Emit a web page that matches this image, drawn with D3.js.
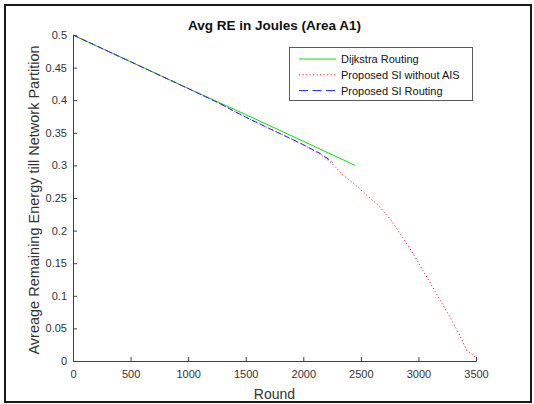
<!DOCTYPE html>
<html>
<head>
<meta charset="utf-8">
<script src="https://cdn.jsdelivr.net/npm/d3@7"></script>
<style>
  html, body { margin: 0; padding: 0; background: #fff; }
  svg { display: block; font-family: "Liberation Sans", Arial, Helvetica, sans-serif; }
</style>
</head>
<body>
<svg id="chart" width="534" height="404"></svg>
<script>
// Average remaining energy per round for the three routing schemes
const dijkstraRounds = [0, 500, 1000, 1500, 2000, 2450];
const dijkstraEnergy = [0.5, 0.459, 0.418, 0.378, 0.337, 0.300];

const siRounds = [0, 500, 1000, 1250, 1500, 1700, 1975, 2150, 2255];
const siEnergy = [0.5, 0.459, 0.418, 0.397, 0.374, 0.357, 0.334, 0.318, 0.305];

const noAisRounds = [0, 500, 1000, 1250, 1500, 1700, 1975, 2150, 2250, 2340, 2440, 2535,
                     2650, 2762, 2862, 2935, 3005, 3105, 3190, 3275, 3360, 3420, 3480, 3500];
const noAisEnergy = [0.5, 0.459, 0.418, 0.397, 0.374, 0.357, 0.334, 0.317, 0.303, 0.286, 0.272, 0.257,
                     0.239, 0.216, 0.190, 0.170, 0.149, 0.119, 0.093, 0.067, 0.039, 0.016, 0.009, 0.004];

const xTicks = [0, 500, 1000, 1500, 2000, 2500, 3000, 3500];
const yTicks = [0, 0.05, 0.1, 0.15, 0.2, 0.25, 0.3, 0.35, 0.4, 0.45, 0.5];
const yTickLabels = ["0", "0.05", "0.1", "0.15", "0.2", "0.25", "0.3", "0.35", "0.4", "0.45", "0.5"];

const seriesNames = ["Dijkstra Routing", "Proposed SI without AIS", "Proposed SI Routing"];

const svg = d3.select("#chart");
const plot = { left: 73, right: 476, top: 35, bottom: 361 };
const axisColor = "#404040";
const textColor = "#333333";

// figure frame
svg.append("rect")
  .attr("x", 5).attr("y", 5)
  .attr("width", 526).attr("height", 397)
  .attr("fill", "#fff")
  .attr("stroke", "#1a1a1a").attr("stroke-width", 2);

const x = d3.scaleLinear().domain([0, 3500]).range([plot.left, plot.right]);
const y = d3.scaleLinear().domain([0, 0.5]).range([plot.bottom, plot.top]);

// axes with inward ticks
const xAxis = d3.axisBottom(x).tickValues(xTicks).tickSize(-4).tickPadding(9.5).tickFormat(d3.format("d"));
const yAxis = d3.axisLeft(y).tickValues(yTicks).tickSize(-4).tickPadding(6)
  .tickFormat((d, i) => yTickLabels[i]);

const gx = svg.append("g").attr("transform", `translate(0,${plot.bottom})`).call(xAxis);
const gy = svg.append("g").attr("transform", `translate(${plot.left},0)`).call(yAxis);

[gx, gy].forEach(g => {
  g.select(".domain").attr("stroke", axisColor).attr("stroke-width", 1);
  g.selectAll(".tick line").attr("stroke", axisColor).attr("stroke-width", 1);
  g.selectAll(".tick text")
    .attr("fill", textColor)
    .style("font-size", "11px")
    .style("font-family", "'Liberation Sans', Arial, sans-serif");
});

// series lines
const line = d3.line().x(d => x(d[0])).y(d => y(d[1]));
const zip = (a, b) => a.map((v, i) => [v, b[i]]);

const series = [
  { name: seriesNames[0], pts: zip(dijkstraRounds, dijkstraEnergy), color: "#00e600", dash: null, legendDash: null },
  { name: seriesNames[1], pts: zip(noAisRounds, noAisEnergy), color: "#ff2020", dash: "1.2,2.3", legendDash: "1.2,2.3" },
  { name: seriesNames[2], pts: zip(siRounds, siEnergy), color: "#2323ff", dash: "6,3", legendDash: "9,4.5" }
];

const lines = svg.append("g");
series.forEach(s => {
  lines.append("path")
    .datum(s.pts)
    .attr("d", line)
    .attr("fill", "none")
    .attr("stroke", s.color)
    .attr("stroke-width", 1)
    .attr("stroke-dasharray", s.dash);
});

// title and axis labels
const midX = (plot.left + plot.right) / 2;
svg.append("text")
  .attr("x", midX).attr("y", 29.5)
  .attr("text-anchor", "middle")
  .attr("fill", "#111")
  .style("font-size", "13.5px").style("font-weight", "bold")
  .text("Avg RE in Joules (Area A1)");

svg.append("text")
  .attr("x", midX).attr("y", 398.5)
  .attr("text-anchor", "middle")
  .attr("fill", textColor)
  .style("font-size", "14px")
  .text("Round");

svg.append("text")
  .attr("transform", `translate(38.5,${(plot.top + plot.bottom) / 2 + 2}) rotate(-90)`)
  .attr("text-anchor", "middle")
  .attr("fill", textColor)
  .style("font-size", "14.5px")
  .text("Avreage Remaining Energy till Network Partition");

// legend
const lg = svg.append("g");
lg.append("rect")
  .attr("x", 289.5).attr("y", 47.5)
  .attr("width", 183).attr("height", 53)
  .attr("fill", "#fff")
  .attr("stroke", "#5a5a5a").attr("stroke-width", 1);

series.forEach((s, i) => {
  const cy = 59 + i * 15.8;
  lg.append("line")
    .attr("x1", 299).attr("x2", 336)
    .attr("y1", cy).attr("y2", cy)
    .attr("stroke", s.color).attr("stroke-width", 1)
    .attr("stroke-dasharray", s.legendDash);
  lg.append("text")
    .attr("x", 341).attr("y", cy + 4)
    .attr("fill", "#111")
    .style("font-size", "11px")
    .text(s.name);
});
</script>
</body>
</html>
